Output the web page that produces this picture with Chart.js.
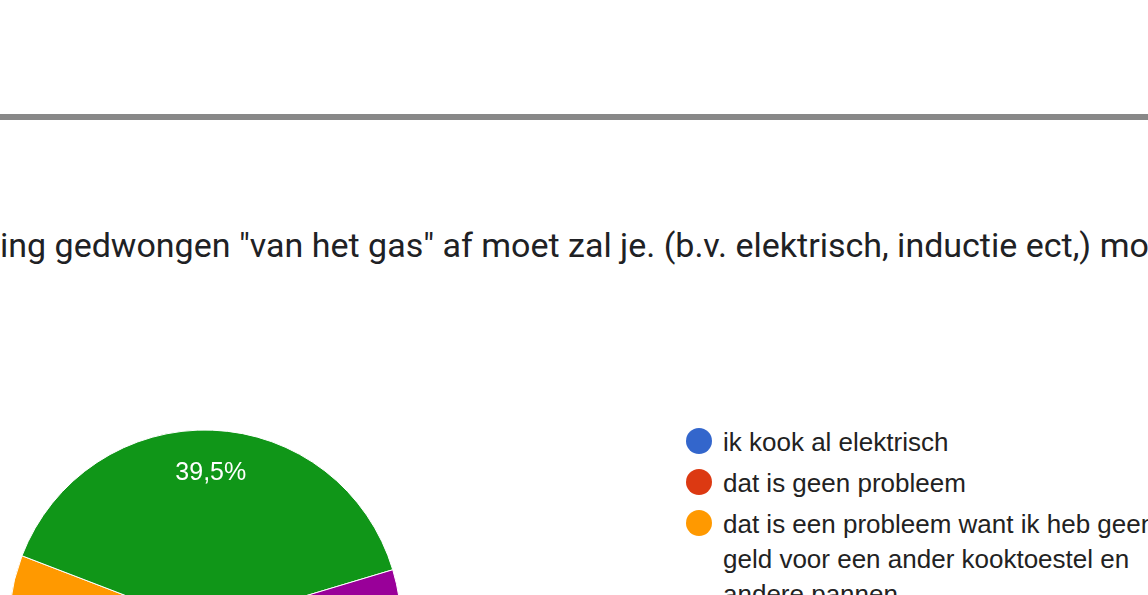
<!DOCTYPE html>
<html>
<head>
<meta charset="utf-8">
<script src="https://cdn.jsdelivr.net/npm/chart.js@4"></script>
<style>
  html, body { margin: 0; padding: 0; width: 1148px; height: 595px; overflow: hidden; background: #fff; }
  #rule { position: absolute; left: 0; top: 114px; width: 1148px; height: 6px; background: #888888; }
  #title {
    position: absolute; left: 0; top: 228px; white-space: nowrap;
    font-family: Roboto, sans-serif; font-size: 34px; line-height: 34px; color: #202124;
  }
  #pieBox { position: absolute; left: 5px; top: 426px; width: 400px; height: 400px; }
  #legend {
    position: absolute; left: 686px; top: 425px; margin: 0; padding: 0; list-style: none;
    font-family: Arial, "Liberation Sans", sans-serif; font-size: 26px; line-height: 35px; color: #222;
    white-space: pre;
  }
  #legend li { position: relative; padding-left: 37px; margin-bottom: 6px; }
  #legend .dot { position: absolute; left: 0; top: 3px; width: 26px; height: 26px; border-radius: 50%; }
</style>
</head>
<body>
<div id="rule"></div>
<div id="title">ing gedwongen "van het gas" af moet zal je. (b.v. elektrisch, inductie ect,) moeten</div>
<div id="pieBox"><canvas id="pieChart"></canvas></div>
<ul id="legend"></ul>

<script>
// answers (legend order) and response counts, 43 responses in total
const answers = [
    'ik kook al elektrisch',
    'dat is geen probleem',
    'dat is een probleem want ik heb geen\ngeld voor een ander kooktoestel en\nandere pannen',
    'ik ga over op inductie',
    'anders'
];
const counts = [2, 9, 7, 17, 8];
const sliceColors = ['#3366cc', '#dc3912', '#ff9900', '#109618', '#990099'];

// percentage labels inside the slices, like the forms summary
const sliceLabels = {
    id: 'sliceLabels',
    afterDatasetsDraw(chart) {
        const ctx = chart.ctx;
        const meta = chart.getDatasetMeta(0);
        const total = counts.reduce((a, b) => a + b, 0);
        ctx.save();
        ctx.font = '25px Arial, "Liberation Sans", sans-serif';
        ctx.fillStyle = '#ffffff';
        ctx.textAlign = 'center';
        ctx.textBaseline = 'middle';
        meta.data.forEach((arc, i) => {
            const pct = counts[i] / total * 100;
            if (pct < 5) return;
            const mid = (arc.startAngle + arc.endAngle) / 2;
            const r = arc.outerRadius * 0.78;
            const x = arc.x + Math.cos(mid) * r;
            const y = arc.y + Math.sin(mid) * r;
            ctx.fillText(pct.toFixed(1).replace('.', ',') + '%', x, y);
        });
        ctx.restore();
    }
};

function initChart() {
    const pieCtx = document.getElementById('pieChart').getContext('2d');
    new Chart(pieCtx, {
        type: 'pie',
        data: {
            labels: answers,
            datasets: [{
                data: counts,
                backgroundColor: sliceColors,
                borderColor: '#ffffff',
                borderWidth: 1,
                radius: 196
            }]
        },
        options: {
            animation: false,
            responsive: true,
            maintainAspectRatio: false,
            rotation: 140.3,
            layout: { padding: 0 },
            plugins: { legend: { display: false }, tooltip: { enabled: false } }
        },
        plugins: [sliceLabels]
    });

    const legend = document.getElementById('legend');
    answers.forEach((text, i) => {
        const li = document.createElement('li');
        const dot = document.createElement('span');
        dot.className = 'dot';
        dot.style.background = sliceColors[i];
        li.appendChild(dot);
        li.appendChild(document.createTextNode(text));
        legend.appendChild(li);
    });
}

document.addEventListener('DOMContentLoaded', initChart);
</script>
</body>
</html>
